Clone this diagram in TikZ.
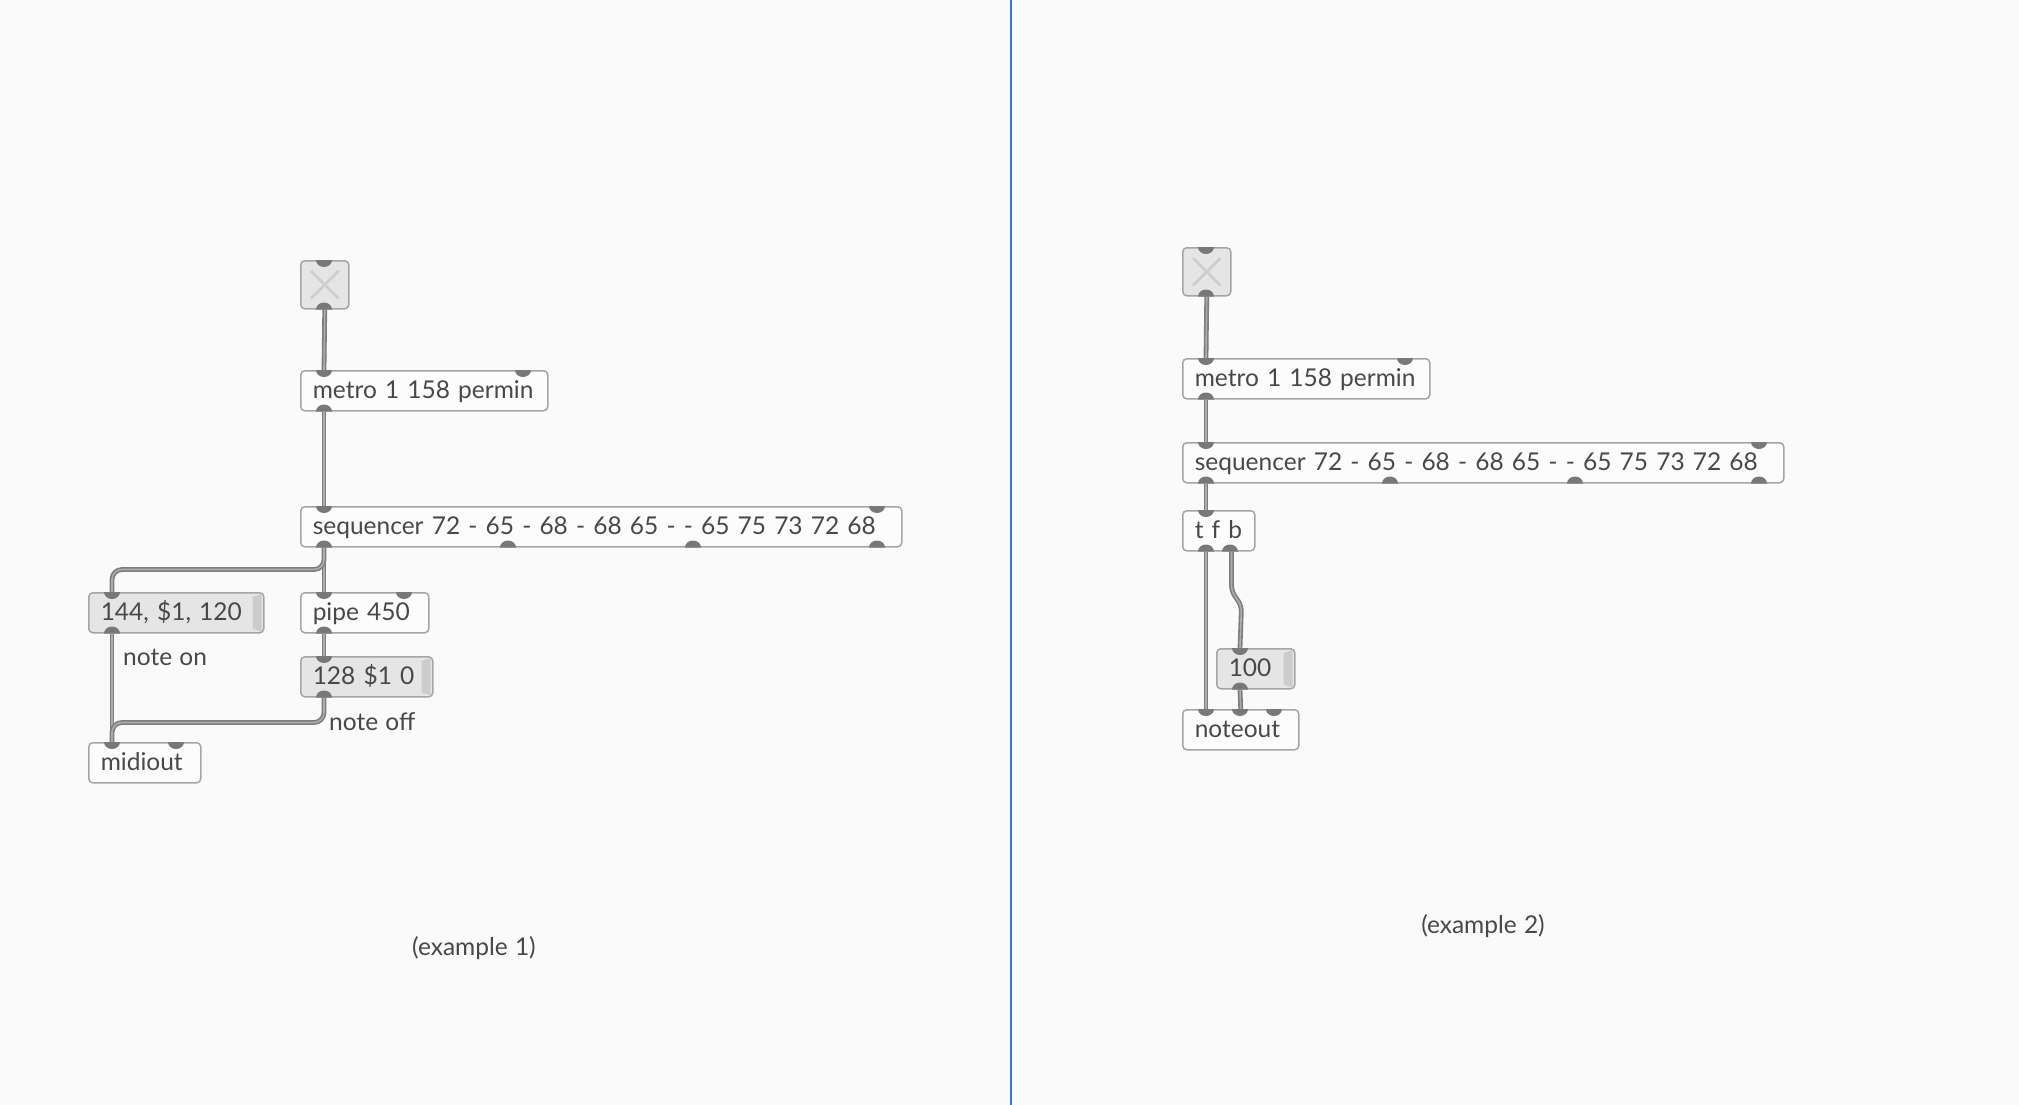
\documentclass[tikz,border=0pt]{standalone}
\usepackage{fontspec}
\setmainfont{Lato}[WordSpace=1.15]
\usepackage{tikz}
\usetikzlibrary{positioning, calc}
\definecolor{pbg}{RGB}{250,250,250}
\definecolor{pline}{RGB}{165,165,165}
\definecolor{pfill}{RGB}{252,252,252}
\definecolor{pmsg}{RGB}{229,229,229}
\definecolor{pstrip}{RGB}{204,204,204}
\definecolor{ptext}{RGB}{72,72,72}
\definecolor{pport}{RGB}{120,120,120}
\definecolor{pcord}{RGB}{125,125,125}
\definecolor{pcordin}{RGB}{172,172,172}
\definecolor{pcross}{RGB}{205,205,205}
\definecolor{psep}{RGB}{52,120,240}

\begin{document}
\begin{tikzpicture}[
  x=1pt, y=-1pt,
  font=\fontsize{24.5}{29}\selectfont,
  obj/.style={draw=pline,fill=pfill,rounded corners=4pt,line width=1.5pt,
              anchor=north west,minimum height=40pt,inner xsep=12pt,inner ysep=0pt,
              text height=18pt,text depth=3pt,align=left,text=ptext},
  msg/.style={obj,fill=pmsg},
  tgl/.style={obj,fill=pmsg,minimum width=48pt,minimum height=48pt},
  cord/.style={draw=pcord,double=pcordin,double distance=1.6pt,line width=1.6pt,
               rounded corners=10pt},
  port/.style={fill=pport},
  cmt/.style={text=ptext,anchor=west,inner sep=0pt}
]
  \fill[pbg] (0,0) rectangle (2019,1105);
  \useasboundingbox (0,0) rectangle (2019,1105);
  \draw[psep,line width=2pt] (1011,0) -- (1011,1105);

  % example 1
  \node[tgl] (togA) at (300,260) {};
  \node[obj,text width=223pt] (metroA) at (300,370) {metro 1 158 permin};
  \node[obj,text width=577pt] (seqA) at (300,506)
    {sequencer 72 - 65 - 68 - 68 65 - - 65 75 73 72 68};
  \node[msg,text width=151pt] (msgA) at (88,592) {144, \$1, 120};
  \node[obj,text width=104pt] (pipeA) at (300,592) {pipe 450};
  \node[msg,text width=108pt] (msgB) at (300,656) {128 \$1 0};
  \node[obj,text width=88pt] (midiA) at (88,742) {midiout};
  \node[cmt] (onA) at (123,657) {note on};
  \node[cmt] (offA) at (329,722) {note off};
  \node[cmt,anchor=center] (capA) at (474,948) {(example 1)};

  % example 2
  \node[tgl] (togB) at (1182,247) {};
  \node[obj,text width=223pt] (metroB) at (1182,358) {metro 1 158 permin};
  \node[obj,text width=577pt] (seqB) at (1182,442)
    {sequencer 72 - 65 - 68 - 68 65 - - 65 75 73 72 68};
  \node[obj,text width=48pt] (tfbB) at (1182,510) {t f b};
  \node[msg,text width=54pt] (msgC) at (1216,648) {100};
  \node[obj,text width=92pt] (noteB) at (1182,709) {noteout};
  \node[cmt,anchor=center] (capB) at (1483,926) {(example 2)};

  \foreach \n in {msgA,msgB,msgC}
    \fill[pstrip] ($(\n.north east)+(-12,5)$) -- ($(\n.north east)+(-3,2)$)
      -- ($(\n.south east)+(-3,-2)$) -- ($(\n.south east)+(-12,-5)$) -- cycle;
  \foreach \n in {togA,togB} {
    \draw[pcross,line width=2.5pt] ($(\n.north west)+(11,11)$) -- ($(\n.south east)+(-11,-11)$);
    \draw[pcross,line width=2.5pt] ($(\n.north east)+(-11,11)$) -- ($(\n.south west)+(11,-11)$);
  }

  % patch cords
  \draw[cord] (togA.south) -- ($(metroA.north west)+(24,0)$);
  \draw[cord] ($(metroA.south west)+(24,0)$) -- ($(seqA.north west)+(24,0)$);
  \draw[cord] ($(seqA.south west)+(24,0)$) -- ($(pipeA.north west)+(24,0)$);
  \draw[cord] ($(seqA.south west)+(24,0)$) -- ++(0,22) -| ($(msgA.north west)+(24,0)$);
  \draw[cord] ($(pipeA.south west)+(24,0)$) -- ($(msgB.north west)+(24,0)$);
  \draw[cord] ($(msgA.south west)+(24,0)$) -- ($(midiA.north west)+(24,0)$);
  \draw[cord] ($(msgB.south west)+(24,0)$) -- ++(0,25) -| ($(midiA.north west)+(24,0)$);

  \draw[cord] (togB.south) -- ($(metroB.north west)+(24,0)$);
  \draw[cord] ($(metroB.south west)+(24,0)$) -- ($(seqB.north west)+(24,0)$);
  \draw[cord] ($(seqB.south west)+(24,0)$) -- ($(tfbB.north west)+(24,0)$);
  \draw[cord] ($(tfbB.south west)+(24,0)$) -- ($(noteB.north west)+(24,0)$);
  \draw[cord,rounded corners=6pt] ($(tfbB.south east)+(-24,0)$) -- ++(0,40) -- ++(10,14)
    -- ($(msgC.north west)+(24,0)$);
  \draw[cord] ($(msgC.south west)+(24,0)$) -- (noteB.north);

  % inlets and outlets
  \foreach \n/\d in {togA/24,metroA/24,metroA/223,seqA/24,seqA/577,msgA/24,pipeA/24,
      pipeA/104,msgB/24,midiA/24,midiA/88,togB/24,metroB/24,metroB/223,seqB/24,
      seqB/577,tfbB/24,msgC/24,noteB/24,noteB/58,noteB/92}
    \fill[port] (\n.north west) ++(\d-8,0) arc[start angle=180,end angle=0,x radius=8,y radius=7] -- cycle;
  \foreach \n/\d in {togA/24,metroA/24,seqA/24,seqA/208,seqA/393,seqA/577,msgA/24,
      pipeA/24,msgB/24,togB/24,metroB/24,seqB/24,seqB/208,seqB/393,seqB/577,tfbB/24,
      tfbB/48,msgC/24}
    \fill[port] (\n.south west) ++(\d-8,0) arc[start angle=180,end angle=360,x radius=8,y radius=7] -- cycle;
\end{tikzpicture}
\end{document}
